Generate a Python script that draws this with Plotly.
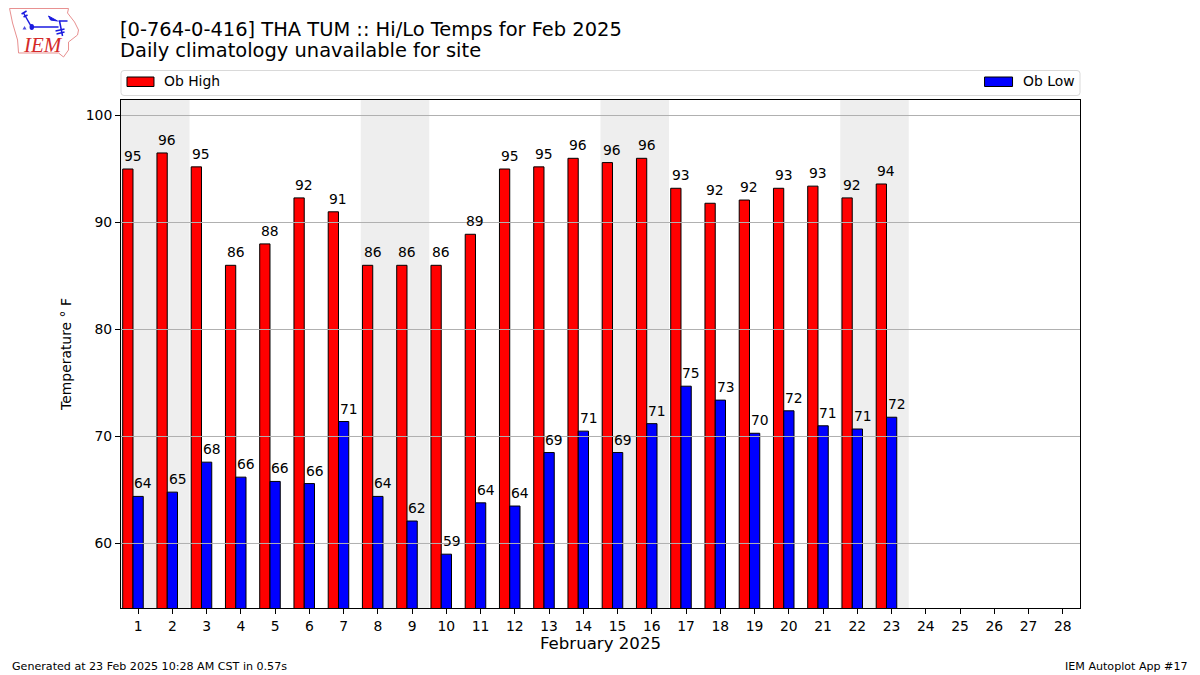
import plotly.graph_objects as go

days = list(range(1, 29))
obs_days = list(range(1, 24))
high = [95.0, 96.5, 95.2, 86.0, 88.0, 92.3, 91.0, 86.0, 86.0, 86.0, 88.9, 95.0,
        95.2, 96.0, 95.6, 96.0, 93.2, 91.8, 92.1, 93.2, 93.4, 92.3, 93.6]
low = [64.4, 64.8, 67.6, 66.2, 65.8, 65.6, 71.4, 64.4, 62.1, 59.0, 63.8, 63.5,
       68.5, 70.5, 68.5, 71.2, 74.7, 73.4, 70.3, 72.4, 71.0, 70.7, 71.8]
high_labels = [95, 96, 95, 86, 88, 92, 91, 86, 86, 86, 89, 95, 95, 96, 96, 96, 93, 92, 92, 93, 93, 92, 94]
low_labels = [64, 65, 68, 66, 66, 66, 71, 64, 62, 59, 64, 64, 69, 71, 69, 71, 75, 73, 70, 72, 71, 71, 72]
weekends = [(0.5, 2.5), (7.5, 9.5), (14.5, 16.5), (21.5, 23.5)]
y_ticks = [60, 70, 80, 90, 100]

FONT = "DejaVu Sans"
OFF = 8  # the page body has an 8 px margin
W, H = 1200 - OFF, 675 - OFF
L, R, T, B = 120.5, 1080, 100, 608
SIZE = 13.9


def px(x):
    return (x - L) / (R - L)


def py(y):
    return (B - y) / (B - T)


fig = go.Figure()
fig.add_bar(x=obs_days, y=high, width=0.3, offset=-0.45, name="Ob High",
            marker=dict(color="#ff0000", line=dict(color="black", width=1)), showlegend=False)
fig.add_bar(x=obs_days, y=low, width=0.3, offset=-0.15, name="Ob Low",
            marker=dict(color="#0000ff", line=dict(color="black", width=1)), showlegend=False)

shapes = []
for a, b in weekends:
    shapes.append(dict(type="rect", xref="x", yref="paper", x0=a, x1=b, y0=0, y1=1,
                       fillcolor="#eeeeee", line_width=0, layer="below"))
for t in y_ticks:
    shapes.append(dict(type="line", xref="paper", yref="y", x0=0, x1=1, y0=t, y1=t,
                       line=dict(color="#b0b0b0", width=1), layer="above"))

annotations = []
for d, v, s in zip(obs_days, high, high_labels):
    annotations.append(dict(x=d - 0.15, y=v, text=str(s), xref="x", yref="y", showarrow=False,
                            xanchor="center", yanchor="bottom", yshift=3,
                            font=dict(family=FONT, size=SIZE, color="black")))
for d, v, s in zip(obs_days, low, low_labels):
    annotations.append(dict(x=d + 0.15, y=v, text=str(s), xref="x", yref="y", showarrow=False,
                            xanchor="center", yanchor="bottom", yshift=3,
                            font=dict(family=FONT, size=SIZE, color="black")))


def text(x, y, s, size, xanchor="left", yanchor="middle", angle=0):
    annotations.append(dict(x=px(x), y=py(y), text=s, xref="paper", yref="paper", showarrow=False,
                            xanchor=xanchor, yanchor=yanchor, textangle=angle, borderpad=0, borderwidth=0,
                            font=dict(family=FONT, size=size, color="black")))


# titles
text(119, 51, "Daily climatology unavailable for site", 19.45)
# footer
text(11, 666, "Generated at 23 Feb 2025 10:28 AM CST in 0.57s", 11.1)
text(1188, 666, "IEM Autoplot App #17", 11.1, xanchor="right")


def path(points, close=False):
    d = "M" + " L".join(f"{px(x):.5f},{py(y):.5f}" for x, y in points)
    return d + (" Z" if close else "")


# legend
x0, x1, y0, y1, r = 120.5, 1080, 70.5, 95.5, 3
frame = (f"M{px(x0 + r):.5f},{py(y0):.5f} L{px(x1 - r):.5f},{py(y0):.5f} "
         f"Q{px(x1):.5f},{py(y0):.5f} {px(x1):.5f},{py(y0 + r):.5f} L{px(x1):.5f},{py(y1 - r):.5f} "
         f"Q{px(x1):.5f},{py(y1):.5f} {px(x1 - r):.5f},{py(y1):.5f} L{px(x0 + r):.5f},{py(y1):.5f} "
         f"Q{px(x0):.5f},{py(y1):.5f} {px(x0):.5f},{py(y1 - r):.5f} L{px(x0):.5f},{py(y0 + r):.5f} "
         f"Q{px(x0):.5f},{py(y0):.5f} {px(x0 + r):.5f},{py(y0):.5f} Z")
shapes.append(dict(type="path", xref="paper", yref="paper", path=frame,
                   line=dict(color="#d9d9d9", width=1), fillcolor="white"))
shapes.append(dict(type="rect", xref="paper", yref="paper", x0=px(126.5), x1=px(153.5), y0=py(86.5), y1=py(77),
                   line=dict(color="black", width=1), fillcolor="#ff0000"))
shapes.append(dict(type="rect", xref="paper", yref="paper", x0=px(984.5), x1=px(1012.5), y0=py(86.5), y1=py(77),
                   line=dict(color="black", width=1), fillcolor="#0000ff"))
text(164, 80.8, "Ob High", SIZE)
text(1075, 80.8, "Ob Low", SIZE, xanchor="right")

# IEM logo: Iowa outline and station plot
outline = [(9, 8.5), (68, 8.5), (67, 13), (74, 22), (78, 30), (77, 35), (68, 42), (68, 50),
           (63, 57), (58, 53), (18, 53), (17, 40), (12, 23)]
shapes.append(dict(type="path", xref="paper", yref="paper", path=path(outline, True),
                   line=dict(color="#e89090", width=1), layer="above"))
for seg in ([(31, 27), (58, 27)], [(31, 27), (23, 13)], [(21, 14), (26, 11)], [(23, 17), (27, 15)],
            [(58, 21), (67, 21)], [(59, 21), (62, 36)], [(55, 31), (64, 29)], [(56, 34), (64, 32)]):
    shapes.append(dict(type="path", xref="paper", yref="paper", path=path(seg),
                       line=dict(color="#1a1ae0", width=1.5), layer="above"))
shapes.append(dict(type="path", xref="paper", yref="paper", path=path([(48, 16), (57, 21), (50, 20)], True),
                   fillcolor="#1a1ae0", line=dict(color="#1a1ae0", width=1), layer="above"))
shapes.append(dict(type="circle", xref="paper", yref="paper", x0=px(29), x1=px(33.5), y0=py(30), y1=py(24),
                   fillcolor="#1a1ae0", line_width=0))
shapes.append(dict(type="path", xref="paper", yref="paper", path=path([(22, 29.5), (26, 29.5), (24, 26)], True),
                   fillcolor="#5050e0", line_width=0, layer="above"))
annotations.append(dict(x=px(20), y=py(45), text="<i>IEM</i>", xref="paper", yref="paper", showarrow=False,
                        xanchor="left", yanchor="middle",
                        font=dict(family="Liberation Serif", size=21, color="#d42a2a")))

fig.update_layout(
    width=W, height=H, autosize=False,
    margin=dict(l=L - OFF, r=1200 - R, t=T - OFF, b=675 - B, pad=0),
    paper_bgcolor="white", plot_bgcolor="white",
    barmode="overlay",
    font=dict(family=FONT, size=SIZE, color="black"),
    showlegend=False,
    title=dict(text="[0-764-0-416] THA TUM :: Hi/Lo Temps for Feb 2025", x=(120 - OFF) / W, xanchor="left",
               y=1 - (29 - OFF) / H, yanchor="middle", xref="container", yref="container",
               font=dict(family=FONT, size=19.45, color="black")),
    xaxis=dict(range=[0.5, 28.5], tickmode="array", tickvals=days, ticktext=[str(d) for d in days],
               ticks="outside", ticklen=5, tickwidth=1, tickcolor="black",
               showline=True, linecolor="black", linewidth=1, mirror=True, showgrid=False, zeroline=False,
               title=dict(text="February 2025", font=dict(family=FONT, size=16.6), standoff=4),
               tickfont=dict(family=FONT, size=SIZE)),
    yaxis=dict(range=[53.97, 101.45], tickmode="array", tickvals=y_ticks,
               ticks="outside", ticklen=5, tickwidth=1, tickcolor="black",
               showline=True, linecolor="black", linewidth=1, mirror=True, showgrid=False, zeroline=False,
               title=dict(text="Temperature ° F", font=dict(family=FONT, size=13.9), standoff=10),
               tickfont=dict(family=FONT, size=SIZE)),
    shapes=shapes,
    annotations=annotations,
)

fig.write_html("out.html")
